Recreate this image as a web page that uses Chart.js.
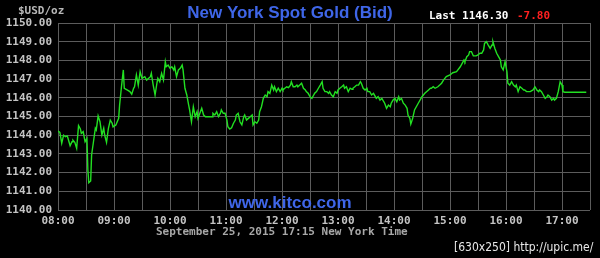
<!DOCTYPE html>
<html>
<head>
<meta charset="utf-8">
<script src="https://cdn.jsdelivr.net/npm/chart.js@4/dist/chart.umd.min.js"></script>
<style>
  body { margin: 0; background: #000; }
  #wrap { width: 600px; height: 258px; position: relative; }
</style>
</head>
<body>
<div id="wrap"><canvas id="myChart"></canvas></div>
<script>
// minutes after 08:00 New York time
const minutes = [
  0,2,4,6,8,10,13,15,16,18,20,22,24,25,27,29,31,32,33,35,36,38,40,41,43,45,47,49,50,52,
  54,56,58,59,62,65,66,68,70,71,74,77,79,81,82,84,86,88,90,91,93,95,99,100,102,104,106,107,109,111,
  113,115,116,118,120,122,124,125,127,129,131,133,134,136,138,140,
  141,143,145,147,149,150,152,154,156,158,161,165,166,168,170,172,174,175,177,179,181,182,184,186,188,190,
  191,193,195,197,199,200,202,204,206,208,209,211,213,215,216,218,220,222,224,225,227,229,231,232,234,236,
  238,240,241,243,245,247,249,250,252,254,256,257,259,261,263,265,266,268,270,272,274,275,
  277,279,281,283,284,286,288,290,291,293,295,297,299,300,302,304,306,307,309,311,313,315,316,318,320,322,
  324,325,327,329,331,332,334,336,338,340,341,343,345,347,349,350,352,354,356,357,359,361,363,365,366,368,
  370,372,374,375,377,378,380,382,386,390,393,397,399,400,402,404,407,409,411,413,416,420,423,
  427,431,435,436,438,440,441,443,445,448,450,452,454,456,457,459,461,463,465,466,468,470,472,474,475,477,
  479,481,482,484,486,488,490,491,493,495,497,499,500,502,506,509,511,513,515,516,518,520,522,524,525,527,
  529,531,532,534,536,538,540,541,543,566
]

const bid = [
  1144.22,1144.15,1143.57,1144.00,1143.92,1143.96,1143.44,1143.65,1143.74,1143.62,1143.30,1144.51,1144.33,1144.10,1144.19,
  1143.65,1143.83,1142.14,1141.46,1141.55,1142.94,1143.65,1144.37,1144.28,1145.03,1144.72,1144.01,1144.37,1144.01,1143.62,
  1144.37,1144.81,1144.64,1144.45,1144.55,1144.90,1145.61,1146.59,1147.49,1146.51,1146.42,1146.33,1146.19,1146.51,1146.59,
  1147.22,1146.68,1147.40,1147.04,1147.04,1147.13,1146.95,1147.13,1147.31,1146.68,1146.15,1146.78,1147.04,1146.86,1147.31,
  1146.95,1147.93,1147.66,1147.75,1147.58,1147.66,1147.49,1147.66,1147.13,1147.49,1147.58,1147.75,1147.49,1146.51,1146.15,1145.61,
  1145.35,1144.72,1145.52,1144.99,1145.26,1144.90,1145.17,1145.44,1145.08,1144.99,1144.99,1144.99,1145.17,1145.08,1145.26,
  1144.99,1145.17,1145.35,1145.17,1145.17,1144.81,1144.45,1144.33,1144.40,1144.64,1144.81,1145.08,1145.17,1144.72,1144.55,
  1144.99,1145.08,1144.81,1144.90,1144.99,1145.08,1144.55,1144.72,1144.64,1144.81,1145.26,1145.52,1145.97,1146.15,1146.06,
  1146.33,1146.24,1146.68,1146.42,1146.59,1146.33,1146.51,1146.33,1146.51,1146.42,1146.51,1146.59,1146.54,1146.68,1146.86,
  1146.59,1146.59,1146.68,1146.59,1146.68,1146.78,1146.51,1146.42,1146.33,1146.24,1146.06,1145.97,1146.15,1146.24,
  1146.33,1146.51,1146.68,1146.86,1146.51,1146.33,1146.33,1146.24,1146.33,1146.15,1146.06,1146.33,1146.24,1146.42,1146.51,
  1146.59,1146.68,1146.51,1146.59,1146.33,1146.51,1146.45,1146.51,1146.59,1146.68,1146.68,1146.86,1146.78,1146.51,1146.42,
  1146.51,1146.33,1146.33,1146.15,1146.24,1146.06,1145.97,1146.06,1145.88,1145.97,1145.79,1145.71,1145.44,1145.61,1145.52,
  1145.71,1145.88,1145.97,1145.79,1146.06,1145.88,1145.97,1145.71,1145.61,1145.44,1145.08,1144.90,1144.60,1144.90,1145.35,
  1145.71,1146.06,1146.24,1146.42,1146.51,1146.51,1146.59,1146.51,1146.59,1146.68,1146.78,1146.95,1147.13,1147.22,1147.34,
  1147.40,1147.66,1148.02,1147.93,1148.20,1148.29,1148.47,1148.47,1148.24,1148.24,1148.29,1148.38,1148.38,1148.56,1148.91,
  1149.00,1148.82,1148.65,1148.82,1149.00,1148.65,1148.38,1148.20,1148.02,1147.66,1147.49,1147.93,1147.40,1146.78,1146.68,
  1146.86,1146.68,1146.59,1146.68,1146.33,1146.59,1146.51,1146.42,1146.42,1146.33,1146.33,1146.42,1146.59,1146.42,1146.33,
  1146.42,1146.33,1146.15,1145.97,1146.06,1146.15,1146.06,1145.88,1145.97,1145.88,1145.97,1146.33,1146.86,1146.68,1146.33,
  1146.30,1146.30
]

const xTickLabels = ['08:00','09:00','10:00','11:00','12:00','13:00','14:00','15:00','16:00','17:00']

const titleText = 'New York Spot Gold (Bid)'
const unitText = '$USD/oz'
const lastText = 'Last 1146.30'
const changeText = '-7.80'
const dateText = 'September 25, 2015 17:15 New York Time'
const siteText = 'www.kitco.com'
const stampText = '[630x250] http://upic.me/'

const blue = '#3f66e8'
const gridGray = '#5c5c5c'
const labelGray = '#c4c4c4'
const monoFont = 'bold 11px "DejaVu Sans Mono"'

const points = minutes.map((m, i) => ({ x: m, y: bid[i] }))

const decorations = {
    id: 'decorations',
    beforeDraw: chart => {
        const ctx = chart.ctx
        ctx.save()
        ctx.fillStyle = '#000'
        ctx.fillRect(0, 0, chart.width, chart.height)
        ctx.restore()
    },
    afterDraw: chart => {
        const ctx = chart.ctx
        ctx.save()
        ctx.textBaseline = 'middle'

        ctx.font = 'bold 17px "Liberation Sans"'
        ctx.fillStyle = blue
        ctx.textAlign = 'center'
        ctx.fillText(titleText, 290, 13)
        ctx.fillText(siteText, 290, 203)

        ctx.font = monoFont
        ctx.textAlign = 'left'
        ctx.fillStyle = '#b8b8b8'
        ctx.fillText(unitText, 18, 11)

        ctx.fillStyle = '#ffffff'
        ctx.fillText(lastText, 429, 16)
        ctx.fillStyle = '#ff2020'
        ctx.fillText(changeText, 517, 16)

        ctx.fillStyle = '#a8a8a8'
        ctx.fillText(dateText, 156, 232)

        ctx.font = '12px "DejaVu Sans Condensed"'
        ctx.fillStyle = '#e8e8e8'
        ctx.fillText(stampText, 454, 248)
        ctx.restore()
    }
}

const ctx = document.querySelector('#myChart').getContext('2d')

new Chart(ctx, {
    type: 'line',
    data: {
        datasets: [
            {
                data: points,
                borderColor: '#22e022',
                borderWidth: 1.4,
                pointRadius: 0,
                tension: 0,
                fill: false
            }
        ]
    },
    options: {
        responsive: true,
        maintainAspectRatio: false,
        animation: false,
        layout: { padding: { top: 23, right: 10, left: 0, bottom: 0 } },
        plugins: {
            legend: { display: false },
            tooltip: { enabled: false }
        },
        scales: {
            x: {
                type: 'linear',
                min: 0,
                max: 570,
                afterFit: s => { s.height = 48 },
                border: { display: false },
                grid: { color: gridGray, drawTicks: false, lineWidth: 1 },
                ticks: {
                    stepSize: 30,
                    autoSkip: false,
                    maxRotation: 0,
                    padding: 5,
                    color: labelGray,
                    font: { family: 'DejaVu Sans Mono', size: 11, weight: 'bold' },
                    callback: v => v % 60 === 0 ? xTickLabels[v / 60] : ''
                }
            },
            y: {
                min: 1140,
                max: 1150,
                afterFit: s => { s.width = 58 },
                border: { display: false },
                grid: { color: gridGray, drawTicks: false, lineWidth: 1 },
                ticks: {
                    stepSize: 1,
                    padding: 6,
                    color: labelGray,
                    font: { family: 'DejaVu Sans Mono', size: 11, weight: 'bold' },
                    callback: v => v.toFixed(2)
                }
            }
        }
    },
    plugins: [decorations]
})
</script>
</body>
</html>
